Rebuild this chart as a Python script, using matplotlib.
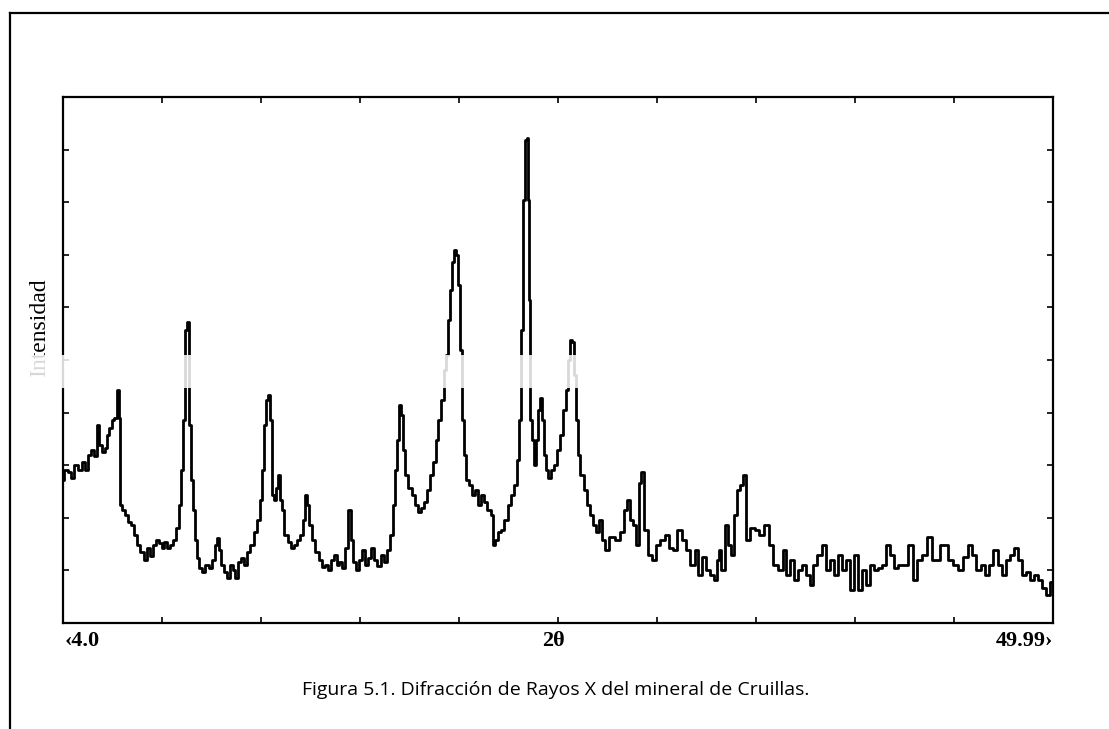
import matplotlib
matplotlib.use("Agg")
import matplotlib.pyplot as plt
from matplotlib.lines import Line2D
from matplotlib.patches import Rectangle

# 2-theta (degrees) and intensity (arbitrary counts)
two_theta = [
    4.00, 4.14, 4.33, 4.46, 4.60, 4.79, 4.93, 5.07, 5.21, 5.35, 5.49, 5.63, 5.72, 5.86, 6.00, 6.09,
    6.23, 6.32, 6.46, 6.56, 6.65, 6.69, 6.83, 6.97, 7.11, 7.25, 7.39, 7.53, 7.67, 7.81, 7.95, 8.09,
    8.23, 8.37, 8.51, 8.65, 8.78, 8.92, 9.06, 9.20, 9.34, 9.44, 9.53, 9.62, 9.71, 9.81, 9.90, 9.99,
    10.09, 10.18, 10.27, 10.41, 10.55, 10.69, 10.83, 10.97, 11.11, 11.20, 11.29, 11.39, 11.53, 11.67,
    11.81, 11.94, 12.08, 12.22, 12.36, 12.50, 12.64, 12.78, 12.92, 13.06, 13.20, 13.29, 13.38, 13.48,
    13.57, 13.66, 13.76, 13.85, 13.94, 14.03, 14.13, 14.22, 14.36, 14.50, 14.64, 14.78, 14.92, 15.06,
    15.20, 15.29, 15.38, 15.52, 15.66, 15.80, 15.94, 16.08, 16.22, 16.36, 16.50, 16.64, 16.78, 16.91,
    17.05, 17.19, 17.33, 17.43, 17.56, 17.70, 17.84, 17.98, 18.12, 18.26, 18.40, 18.54, 18.68, 18.82,
    18.96, 19.10, 19.24, 19.38, 19.47, 19.56, 19.66, 19.75, 19.84, 19.98, 20.12, 20.26, 20.40, 20.54,
    20.68, 20.82, 20.96, 21.10, 21.24, 21.37, 21.51, 21.65, 21.75, 21.84, 21.93, 22.02, 22.12, 22.21,
    22.30, 22.40, 22.49, 22.58, 22.67, 22.81, 22.95, 23.09, 23.23, 23.37, 23.51, 23.65, 23.79, 23.93,
    24.02, 24.16, 24.30, 24.44, 24.58, 24.72, 24.86, 25.00, 25.14, 25.23, 25.32, 25.42, 25.51, 25.56,
    25.60, 25.65, 25.74, 25.83, 25.93, 26.02, 26.11, 26.20, 26.30, 26.39, 26.48, 26.62, 26.76, 26.90,
    27.04, 27.18, 27.32, 27.41, 27.51, 27.60, 27.69, 27.78, 27.88, 27.97, 28.11, 28.25, 28.39, 28.53,
    28.67, 28.81, 28.95, 29.09, 29.27, 29.50, 29.74, 29.97, 30.11, 30.25, 30.39, 30.53, 30.67, 30.80,
    30.94, 31.08, 31.27, 31.50, 31.64, 31.87, 32.06, 32.20, 32.43, 32.66, 32.85, 33.03, 33.27, 33.45,
    33.59, 33.78, 33.96, 34.15, 34.29, 34.43, 34.52, 34.66, 34.80, 34.94, 35.08, 35.22, 35.40, 35.54,
    35.68, 35.82, 36.05, 36.24, 36.47, 36.70, 36.89, 37.08, 37.31, 37.54, 37.68, 37.87, 38.01, 38.24,
    38.42, 38.61, 38.79, 38.93, 39.17, 39.35, 39.54, 39.72, 39.91, 40.10, 40.28, 40.47, 40.65, 40.84,
    41.03, 41.21, 41.40, 41.58, 41.77, 41.95, 42.14, 42.33, 42.51, 42.70, 42.88, 43.12, 43.35, 43.58,
    43.81, 44.04, 44.28, 44.46, 44.65, 44.79, 44.97, 45.21, 45.44, 45.67, 45.91, 46.14, 46.32, 46.51,
    46.74, 46.92, 47.11, 47.30, 47.53, 47.71, 47.90, 48.09, 48.27, 48.46, 48.64, 48.83, 49.01, 49.20,
    49.39, 49.57, 49.76, 49.94,
]
intensity = [
    272, 291, 287, 276, 300, 291, 306, 291, 319, 329, 317, 376, 338, 325, 333, 357,
    371, 386, 390, 443, 390, 224, 215, 205, 192, 186, 167, 148, 135, 120, 143, 127,
    148, 158, 152, 143, 154, 143, 148, 158, 181, 224, 291, 386, 557, 572, 376, 272,
    215, 158, 124, 105, 97, 110, 105, 120, 148, 162, 139, 110, 97, 86,
    110, 101, 86, 116, 124, 110, 135, 148, 173, 196, 234, 291, 376, 424,
    433, 386, 243, 234, 257, 281, 234, 215, 167, 154, 143, 148, 158, 167,
    196, 243, 224, 186, 158, 135, 120, 106, 110, 101, 120, 129, 110, 116,
    105, 143, 215, 158, 116, 101, 120, 139, 110, 124, 143, 120, 108, 129,
    116, 139, 167, 224, 291, 348, 414, 395, 329, 281, 257, 243, 224, 211,
    219, 230, 253, 281, 306, 348, 386, 424, 481, 510, 576, 633, 686, 709,
    700, 643, 519, 386, 319, 272, 262, 243, 253, 224, 243, 230, 215, 205,
    148, 158, 173, 177, 196, 224, 243, 262, 310, 386, 557, 804, 918, 922,
    804, 614, 386, 348, 300, 348, 405, 428, 386, 319, 291, 276, 291, 300,
    329, 357, 405, 443, 500, 538, 534, 471, 386, 319, 281, 253, 224, 205,
    186, 173, 196, 158, 139, 163, 158, 173, 215, 234, 196, 186, 148, 266,
    287, 177, 129, 120, 148, 158, 167, 143, 139, 177, 158, 139, 110, 139,
    91, 125, 101, 91, 82, 120, 139, 101, 186, 148, 129, 205, 253, 262,
    281, 158, 181, 177, 167, 186, 148, 110, 101, 139, 91, 120, 82, 101,
    110, 91, 72, 110, 129, 148, 101, 120, 91, 129, 101, 120, 63, 129,
    63, 101, 72, 110, 101, 105, 110, 148, 129, 105, 110, 110, 148, 82,
    120, 129, 163, 120, 120, 148, 148, 120, 110, 101, 125, 148, 129, 101,
    110, 91, 110, 139, 110, 91, 120, 129, 143, 120, 91, 97, 82, 91,
    82, 67, 53, 78,
]

x_min, x_max = 4.0, 49.99
x_ticks = [x_min + i * (x_max - x_min) / 10 for i in range(11)]
y_ticks = list(range(0, 1001, 100))

fig = plt.figure(figsize=(11.09, 7.29), dpi=100)
ax = fig.add_axes([0.0568, 0.1454, 0.8927, 0.7215])

ax.plot(two_theta, intensity, color="black", lw=2.0, drawstyle="steps-mid")
ax.set_xlim(x_min, x_max)
ax.set_ylim(0, 1000)
ax.set_xticks(x_ticks)
ax.set_yticks(y_ticks)
ax.set_xticklabels([])
ax.set_yticklabels([])
ax.tick_params(direction="in", length=4, width=1.2, top=True, right=True)
for s in ax.spines.values():
    s.set_linewidth(1.6)

serif = ["Liberation Serif", "DejaVu Serif"]
ax.text(0.002, -0.016, "\u2039" + "4.0", transform=ax.transAxes, ha="left", va="top",
        fontsize=16, fontweight="bold", family=serif)
ax.text(0.495, -0.016, "2\u03b8", transform=ax.transAxes, ha="center", va="top",
        fontsize=16, fontweight="bold", family=serif)
ax.text(1.0, -0.016, "49.99\u203a", transform=ax.transAxes, ha="right", va="top",
        fontsize=16, fontweight="bold", family=serif)

fig.text(0.036, 0.55, "Intensidad", rotation=90, ha="center", va="center",
         fontsize=17, family=serif)

fig.text(0.501, 0.053, "Figura 5.1. Difracción de Rayos X del mineral de Cruillas.",
         ha="center", va="center", fontsize=14, family="Open Sans")

# outer page frame (left and top edges)
fig.add_artist(Line2D([0.009, 0.009], [0.0, 0.982], color="black", lw=1.6))
fig.add_artist(Line2D([0.009, 1.0], [0.982, 0.982], color="black", lw=1.6))

# faded scan band across the middle
fig.add_artist(Rectangle((0.015, 0.468), 0.92, 0.045, transform=fig.transFigure,
                         facecolor="white", edgecolor="none", alpha=0.85, zorder=10))

fig.savefig("out.png", dpi=100)
